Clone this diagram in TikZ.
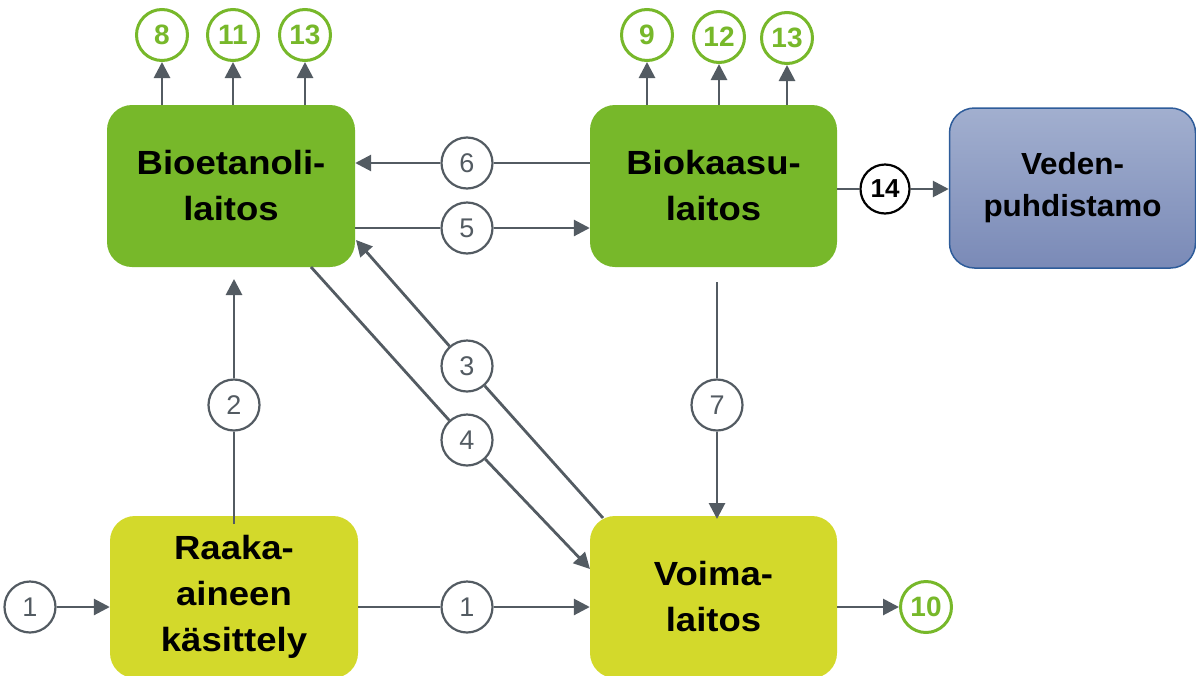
\documentclass[tikz,border=0pt]{standalone}
\usepackage{fontspec}
\setmainfont{Liberation Sans}
\newfontfamily\boxfont[FakeStretch=1.09]{Liberation Sans Bold}
\newfontfamily\vedfont[FakeStretch=1.03]{Liberation Sans Bold}
\usetikzlibrary{arrows.meta}
\definecolor{grn}{HTML}{77B82A}
\definecolor{lime}{HTML}{D3D92B}
\definecolor{lgray}{HTML}{535B62}
\definecolor{vtop}{HTML}{A2AFCF}
\definecolor{vbot}{HTML}{7A8AB7}
\definecolor{vbord}{HTML}{2E5C9A}
\begin{document}
\begin{tikzpicture}[x=1pt,y=-1pt,
  procbox/.style={rounded corners=25pt, minimum width=248pt, minimum height=162pt, inner sep=0pt, align=center,
    font=\boxfont\fontsize{33.5}{46}\selectfont},
  gcirc/.style={circle, draw=lgray, line width=2.2pt, fill=white, minimum size=51pt, inner sep=0pt, text=lgray,
    font=\fontsize{27}{27}\selectfont},
  ocirc/.style={circle, draw=grn, line width=3pt, fill=white, minimum size=51pt, inner sep=0pt, text=grn,
    font=\bfseries\fontsize{28}{28}\selectfont},
  bcirc/.style={circle, draw=black, line width=2.2pt, fill=white, minimum size=49pt, inner sep=0pt, text=black,
    font=\bfseries\fontsize{26}{26}\selectfont},
  ln/.style={draw=lgray, line width=2.8pt},
  arr/.style={ln, -{Triangle[length=16pt,width=16pt]}}
]
\useasboundingbox (0,0) rectangle (1196,675);
% boxes
\node[procbox, fill=grn] (eta) at (231,186) {Bioetanoli-\\laitos};
\node[procbox, fill=grn, minimum width=247pt] (kaa) at (713.5,186) {Biokaasu-\\laitos};
\node[procbox, minimum width=246pt, minimum height=160pt, top color=vtop, bottom color=vbot, draw=vbord, line width=1.5pt,
  font=\vedfont\fontsize{30.5}{42}\selectfont] (ved) at (1072.5,188) {Veden-\\puhdistamo};
\node[procbox, fill=lime] (raa) at (234,597) {Raaka-\\aineen\\käsittely};
\node[procbox, fill=lime, minimum width=247pt] (voi) at (713.5,597) {Voima-\\laitos};
% circles
\node[ocirc] (g8) at (162,35) {8};
\node[ocirc] (g11) at (233,35) {11};
\node[ocirc] (g13a) at (305,35) {13};
\node[ocirc] (g9) at (647,35) {9};
\node[ocirc] (g12) at (719,37) {12};
\node[ocirc] (g13b) at (787,38) {13};
\node[ocirc] (g10) at (926,607) {10};
\node[gcirc] (c6) at (467,163) {6};
\node[gcirc] (c5) at (467,228) {5};
\node[gcirc] (c3) at (467,366) {3};
\node[gcirc] (c4) at (467,440) {4};
\node[gcirc] (c2) at (234,405) {2};
\node[gcirc] (c7) at (717,405) {7};
\node[gcirc] (c1a) at (30,607) {1};
\node[gcirc] (c1b) at (467,607) {1};
\node[bcirc] (c14) at (885,189) {14};
% coordinates
\coordinate (p3s) at (603,518);
\coordinate (p3e) at (356,240);
\coordinate (p4s) at (311,267);
\coordinate (p4e) at (590,569);
\coordinate (p2s) at (234,524);
\coordinate (p2e) at (234,279);
\coordinate (p7s) at (717,282);
\coordinate (p7e) at (717,519);
% top arrows
\draw[arr] (eta.north -| g8) -- (g8);
\draw[arr] (eta.north -| g11) -- (g11);
\draw[arr] (eta.north -| g13a) -- (g13a);
\draw[arr] (kaa.north -| g9) -- (g9);
\draw[arr] (kaa.north -| g12) -- (g12);
\draw[arr] (kaa.north -| g13b) -- (g13b);
% 6 and 5
\draw[ln] (kaa.west |- c6) -- (c6);
\draw[arr] (c6) -- (eta.east |- c6);
\draw[ln] (eta.east |- c5) -- (c5);
\draw[arr] (c5) -- (kaa.west |- c5);
% 3 and 4
\draw[ln] (p3s) -- (c3);
\draw[arr] (c3) -- (p3e);
\draw[ln] (p4s) -- (c4);
\draw[arr] (c4) -- (p4e);
% 2 and 7
\draw[ln] (p2s) -- (c2);
\draw[arr] (c2) -- (p2e);
\draw[ln] (p7s) -- (c7);
\draw[arr] (c7) -- (p7e);
% 1s
\draw[arr] (c1a) -- (raa.west |- c1a);
\draw[ln] (raa.east |- c1b) -- (c1b);
\draw[arr] (c1b) -- (voi.west |- c1b);
% 10 and 14
\draw[arr] (voi.east |- g10) -- (g10);
\draw[ln] (kaa.east |- c14) -- (c14);
\draw[arr] (c14) -- (ved.west |- c14);
\end{tikzpicture}
\end{document}
